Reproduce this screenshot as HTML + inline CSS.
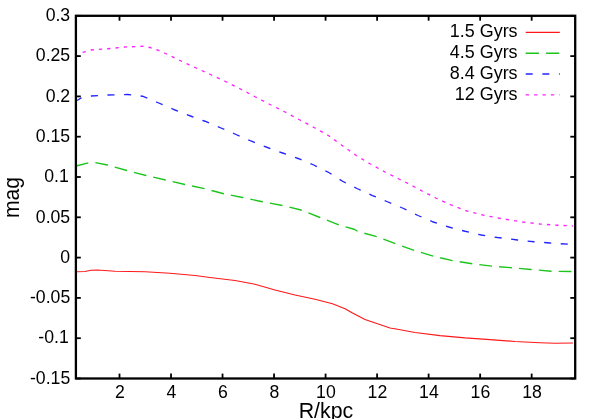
<!DOCTYPE html>
<html><head><meta charset="utf-8"><style>
html,body{margin:0;padding:0;background:#fff;}
body{width:598px;height:419px;overflow:hidden;}
svg{display:block;will-change:transform;}
text{font-family:"Liberation Sans",sans-serif;font-size:18.8px;fill:#000;}
</style></head><body>
<svg width="598" height="419" viewBox="0 0 598 419">
<rect width="598" height="419" fill="#fff"/>
<g fill="none" stroke-width="1.35">
<path d="M77.00,271.75 L85.00,271.50 L91.00,270.25 L97.50,270.00 L115.00,271.25 L145.00,271.75 L170.00,273.25 L195.00,275.50 L210.00,277.50 L235.00,280.50 L255.00,284.25 L275.00,290.00 L295.00,295.00 L315.00,299.25 L332.50,303.75 L345.00,308.75 L352.50,313.00 L365.00,319.50 L377.50,323.75 L390.00,328.00 L397.50,329.25 L415.00,332.50 L440.00,335.60 L465.00,337.90 L490.00,339.60 L515.00,341.50 L540.00,342.75 L555.00,343.25 L573.00,343.00" stroke="#ff1818" stroke-width="1.2"/>
<path d="M77.00,165.75 L88.75,162.75 L95.00,162.50 L107.50,165.00 L127.00,170.50 L146.00,175.50 L165.50,180.00 L185.00,184.50 L205.00,188.75 L223.75,193.75 L242.50,197.50 L262.50,201.75 L282.50,205.50 L301.00,210.00 L320.00,217.50 L339.00,225.00 L354.00,229.25 L358.00,231.50 L377.00,236.75 L395.50,243.75 L414.50,250.50 L433.75,256.25 L452.50,260.60 L472.50,263.75 L492.50,266.25 L512.50,267.75 L531.00,269.50 L551.00,271.25 L573.00,271.50" stroke="#1cc41c" stroke-dasharray="12.8 7.114" stroke-dashoffset="1.16"/>
<path d="M77.00,100.50 L81.25,98.00 L91.25,96.00 L107.50,95.00 L127.50,94.50 L142.50,96.25 L157.50,102.50 L175.00,110.00 L192.50,116.75 L205.00,121.25 L221.00,128.00 L236.00,134.50 L251.00,141.00 L267.50,147.50 L282.50,153.00 L298.75,158.75 L313.75,165.00 L328.75,172.50 L342.50,181.25 L357.50,188.75 L372.50,195.60 L387.50,201.75 L403.00,208.25 L418.00,215.50 L433.25,222.00 L448.75,227.00 L465.00,231.25 L481.25,235.00 L497.50,237.50 L517.50,240.00 L534.00,241.75 L550.00,243.00 L573.00,244.50" stroke="#2424ff" stroke-dasharray="7.1 9.525" stroke-dashoffset="1.9"/>
<path d="M77.00,56.25 L82.50,52.50 L91.25,50.00 L107.50,48.75 L125.00,47.00 L142.50,46.25 L150.00,47.50 L157.50,50.00 L165.00,53.25 L180.00,60.50 L195.00,67.50 L210.00,74.25 L225.00,81.25 L240.00,88.75 L255.00,96.75 L270.00,104.50 L285.00,112.00 L300.00,120.00 L315.00,128.00 L328.75,135.75 L342.50,145.75 L356.25,155.50 L370.00,163.75 L385.00,172.00 L399.50,179.25 L407.50,183.25 L422.50,191.25 L436.25,198.25 L451.25,205.00 L466.25,210.75 L482.50,215.00 L499.50,218.25 L522.50,222.00 L540.00,224.00 L557.50,225.25 L573.00,226.00" stroke="#ff24ff" stroke-dasharray="3.3 5.004" stroke-dashoffset="1.5"/>
</g>
<g stroke="#000" stroke-width="1.8" fill="none"><path d="M119.50,378.5 V373.6"/><path d="M119.50,15.8 V20.700000000000003"/><path d="M171.02,378.5 V373.6"/><path d="M171.02,15.8 V20.700000000000003"/><path d="M222.54,378.5 V373.6"/><path d="M222.54,15.8 V20.700000000000003"/><path d="M274.06,378.5 V373.6"/><path d="M274.06,15.8 V20.700000000000003"/><path d="M325.58,378.5 V373.6"/><path d="M325.58,15.8 V20.700000000000003"/><path d="M377.10,378.5 V373.6"/><path d="M377.10,15.8 V20.700000000000003"/><path d="M428.62,378.5 V373.6"/><path d="M428.62,15.8 V20.700000000000003"/><path d="M480.14,378.5 V373.6"/><path d="M480.14,15.8 V20.700000000000003"/><path d="M531.66,378.5 V373.6"/><path d="M531.66,15.8 V20.700000000000003"/><path d="M75.9,378.50 H80.80000000000001"/><path d="M575.2,378.50 H570.3000000000001"/><path d="M75.9,338.20 H80.80000000000001"/><path d="M575.2,338.20 H570.3000000000001"/><path d="M75.9,297.90 H80.80000000000001"/><path d="M575.2,297.90 H570.3000000000001"/><path d="M75.9,257.60 H80.80000000000001"/><path d="M575.2,257.60 H570.3000000000001"/><path d="M75.9,217.30 H80.80000000000001"/><path d="M575.2,217.30 H570.3000000000001"/><path d="M75.9,177.00 H80.80000000000001"/><path d="M575.2,177.00 H570.3000000000001"/><path d="M75.9,136.70 H80.80000000000001"/><path d="M575.2,136.70 H570.3000000000001"/><path d="M75.9,96.40 H80.80000000000001"/><path d="M575.2,96.40 H570.3000000000001"/><path d="M75.9,56.10 H80.80000000000001"/><path d="M575.2,56.10 H570.3000000000001"/><path d="M75.9,15.80 H80.80000000000001"/><path d="M575.2,15.80 H570.3000000000001"/></g>
<rect x="75.9" y="15.8" width="499.30000000000007" height="362.7" fill="none" stroke="#000" stroke-width="2.3"/>
<g><text transform="translate(70.20,383.70) scale(0.94,1)" text-anchor="end">-0.15</text><text transform="translate(68.80,343.40) scale(0.94,1)" text-anchor="end">-0.1</text><text transform="translate(70.20,303.10) scale(0.94,1)" text-anchor="end">-0.05</text><text transform="translate(70.20,262.80) scale(0.94,1)" text-anchor="end">0</text><text transform="translate(70.20,222.50) scale(0.94,1)" text-anchor="end">0.05</text><text transform="translate(68.80,182.20) scale(0.94,1)" text-anchor="end">0.1</text><text transform="translate(70.20,141.90) scale(0.94,1)" text-anchor="end">0.15</text><text transform="translate(70.20,101.60) scale(0.94,1)" text-anchor="end">0.2</text><text transform="translate(70.20,61.30) scale(0.94,1)" text-anchor="end">0.25</text><text transform="translate(70.20,21.00) scale(0.94,1)" text-anchor="end">0.3</text><text transform="translate(119.80,397.80) scale(0.94,1)" text-anchor="middle">2</text><text transform="translate(171.32,397.80) scale(0.94,1)" text-anchor="middle">4</text><text transform="translate(222.84,397.80) scale(0.94,1)" text-anchor="middle">6</text><text transform="translate(274.36,397.80) scale(0.94,1)" text-anchor="middle">8</text><text transform="translate(325.88,397.80) scale(0.94,1)" text-anchor="middle">10</text><text transform="translate(377.40,397.80) scale(0.94,1)" text-anchor="middle">12</text><text transform="translate(428.92,397.80) scale(0.94,1)" text-anchor="middle">14</text><text transform="translate(480.44,397.80) scale(0.94,1)" text-anchor="middle">16</text><text transform="translate(531.96,397.80) scale(0.94,1)" text-anchor="middle">18</text><text transform="translate(517.60,37.20) scale(0.955,1)" text-anchor="end">1.5 Gyrs</text><path d="M525.7,32.4 H559.8" stroke="#ff1818" stroke-width="1.2" fill="none"/><text transform="translate(517.60,58.00) scale(0.955,1)" text-anchor="end">4.5 Gyrs</text><path d="M525.7,53.2 H559.8" stroke="#1cc41c" stroke-width="1.35" fill="none" stroke-dasharray="13.2 7.2"/><text transform="translate(517.60,78.80) scale(0.955,1)" text-anchor="end">8.4 Gyrs</text><path d="M525.7,74.0 H559.8" stroke="#2424ff" stroke-width="1.35" fill="none" stroke-dasharray="7 9.625"/><text transform="translate(517.60,99.60) scale(0.955,1)" text-anchor="end">12 Gyrs</text><path d="M525.7,94.8 H559.8" stroke="#ff24ff" stroke-width="1.35" fill="none" stroke-dasharray="3.3 5.1"/></g>
<text transform="translate(325.90,418.30) scale(0.94,1)" text-anchor="middle" style="font-size:22.7px">R/kpc</text>
<text transform="translate(19.40,197.50) rotate(-90) scale(0.94,1)" text-anchor="middle" style="font-size:22.5px">mag</text>
</svg>
</body></html>
